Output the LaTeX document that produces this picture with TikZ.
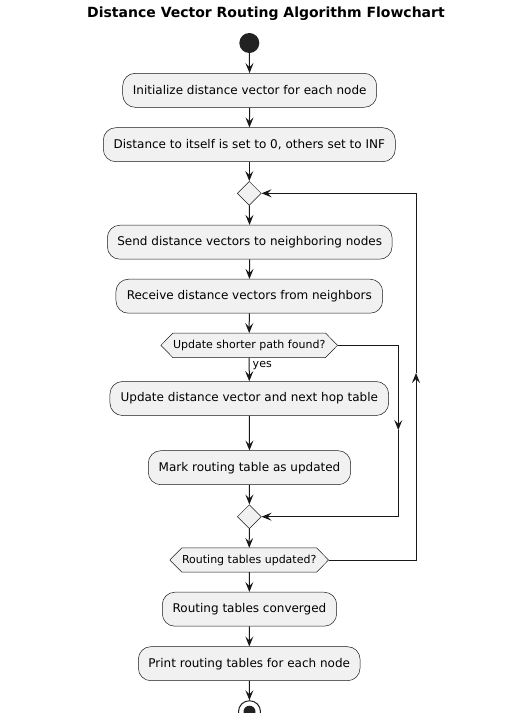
\documentclass[tikz,border=0pt]{standalone}
\usepackage{fontspec}
\setmainfont{DejaVu Sans}
\usetikzlibrary{arrows.meta,backgrounds,shapes.geometric}
\definecolor{nodefill}{HTML}{F1F1F1}
\definecolor{linecol}{HTML}{181818}
\definecolor{bordercol}{HTML}{181818}
\definecolor{dotcol}{HTML}{222222}
\begin{document}
\begin{tikzpicture}[x=1pt,y=-1pt,
  act/.style={draw=bordercol, line width=0.5pt, fill=nodefill, rounded corners=12.5pt,
    minimum height=34pt, inner xsep=0pt, font=\fontsize{12}{14}\selectfont, text=black},
  arr/.style={draw=linecol, line width=1pt, -{Stealth[length=10pt,width=8pt,inset=4pt]}},
  ln/.style={draw=linecol, line width=1pt},
  mrg/.style={draw=bordercol, line width=0.5pt, fill=nodefill, diamond, aspect=1,
    minimum width=24pt, minimum height=24pt, inner sep=0pt},
  dec/.style={minimum height=24pt, inner xsep=0pt, font=\fontsize{11}{13}\selectfont, text=black},
  decbox/.style={draw=bordercol, line width=0.5pt, fill=nodefill},
  lbl/.style={font=\fontsize{11}{13}\selectfont, text=black, inner sep=0pt},
  ttl/.style={font=\bfseries\fontsize{14}{16}\selectfont, text=black}
]
\useasboundingbox (0,0) rectangle (517,713);
\begin{scope}
\clip (0,0) rectangle (517,713);

\node[ttl] (title) at (266,14) {Distance Vector Routing Algorithm Flowchart};

\node[circle, fill=dotcol, minimum size=20pt, inner sep=0pt] (start) at (249.3,43) {};
\node[act, minimum width=254pt] (n1) at (249.7,90.3) {Initialize distance vector for each node};
\node[act, minimum width=292pt] (n2) at (249.3,144.7) {Distance to itself is set to 0, others set to INF};
\node[mrg] (m1) at (249.3,193.3) {};
\node[act, minimum width=284.7pt] (n3) at (249.7,242.2) {Send distance vectors to neighboring nodes};
\node[act, minimum width=266.7pt] (n4) at (249.3,296.2) {Receive distance vectors from neighbors};
\node[dec, minimum width=176.3pt] (d1) at (249.2,345.3) {Update shorter path found?};
\node[act, minimum width=278.7pt] (n5) at (249.3,398.5) {Update distance vector and next hop table};
\node[act, minimum width=202.4pt] (n6) at (249.5,467.7) {Mark routing table as updated};
\node[mrg] (m2) at (249.3,516.7) {};
\node[dec, minimum width=158.3pt] (d2) at (249.2,560) {Routing tables updated?};
\node[act, minimum width=174.4pt] (n7) at (249.5,609.2) {Routing tables converged};
\node[act, minimum width=221.7pt] (n8) at (249.2,663.7) {Print routing tables for each node};
\node[circle, draw=dotcol, line width=1pt, fill=none, minimum size=22pt, inner sep=0pt] (stop) at (249.5,711.7) {};
\node[circle, fill=dotcol, minimum size=12pt, inner sep=0pt] (stopin) at (stop.center) {};

\begin{scope}[on background layer]
\fill[white] (0,0) rectangle (517,713);
\foreach \d in {d1,d2}{
  \draw[decbox] (\d.west) -- ([xshift=12pt]\d.north west) -- ([xshift=-12pt]\d.north east)
    -- (\d.east) -- ([xshift=-12pt]\d.south east) -- ([xshift=12pt]\d.south west) -- cycle;
}
\end{scope}

\coordinate (rA) at (398.3,430);
\coordinate (rB) at (416,373);

\draw[arr] (start) -- (n1);
\draw[arr] (n1) -- (n2);
\draw[arr] (n2) -- (m1);
\draw[arr] (m1) -- (n3);
\draw[arr] (n3) -- (n4);
\draw[arr] (n4) -- (d1);
\draw[arr] (d1) -- (n5) node[lbl, pos=0.35, anchor=west, xshift=3pt] (yes) {yes};
\draw[arr] (n5) -- (n6);
\draw[arr] (n6) -- (m2);
\draw[arr] (m2) -- (d2);
\draw[arr] (d2) -- (n7);
\draw[arr] (n7) -- (n8);
\draw[arr] (n8) -- (stop);

\draw[arr] (d1.east) -| (rA);
\draw[arr] (rA) |- (m2.east);
\draw[arr] (d2.east) -| (rB);
\draw[arr] (rB) |- (m1.east);
\end{scope}
\end{tikzpicture}
\end{document}
